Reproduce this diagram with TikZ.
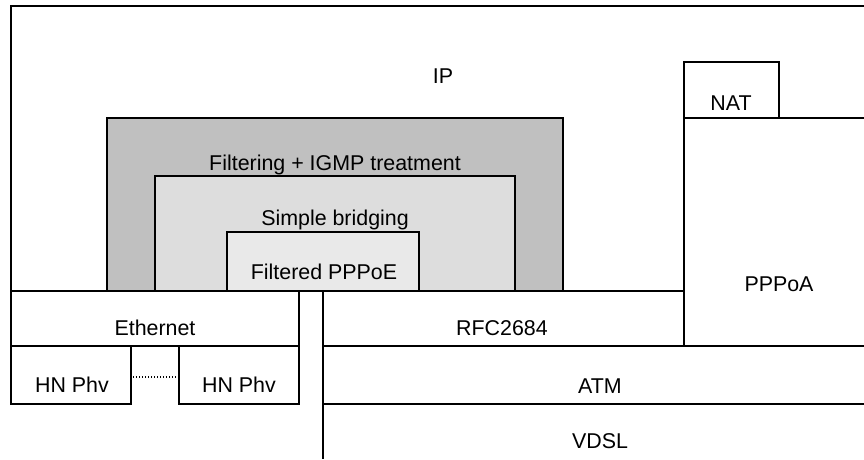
\documentclass[tikz,border=0pt]{standalone}
\usepackage{fontspec}
\setmainfont{Liberation Sans}
\begin{document}
\begin{tikzpicture}[x=1pt,y=-1pt,
  wire/.style={line width=1.6pt,line join=miter},
  lbl/.style={anchor=base,inner sep=0pt,font=\fontsize{21.4}{25}\selectfont},
  gdark/.style={wire,fill=gray75},
  gmid/.style={wire,fill=gray87},
  glight/.style={wire,fill=gray91}]
\definecolor{gray75}{HTML}{C0C0C0}
\definecolor{gray87}{HTML}{DDDDDD}
\definecolor{gray91}{HTML}{E9E9E9}
\useasboundingbox (0,0) rectangle (864,459);

% IP layer, open to the right
\draw[wire] (870,6) -- (11,6) -- (11,291);
\draw[wire] (11,291) -- (684,291);

% nested bridging boxes
\draw[gdark]  (107,118) rectangle (563,291);
\draw[gmid]   (155,176) rectangle (515,291);
\draw[glight] (227,232) rectangle (419,291);

% NAT and PPPoA
\draw[wire] (684,62) rectangle (779,118);
\draw[wire] (684,118) -- (870,118);
\draw[wire] (684,118) -- (684,346);

% Ethernet side
\draw[wire] (11,291) rectangle (299,346);
\draw[wire] (11,346) rectangle (131,404);
\draw[wire] (179,346) rectangle (299,404);
\coordinate (dotA) at (133,377);
\coordinate (dotB) at (177,377);
\draw[line width=1.3pt,dash pattern=on 1.3pt off 1.7pt] (dotA) -- (dotB);

% ATM side
\draw[wire] (323,291) rectangle (684,346);
\draw[wire] (323,346) -- (870,346);
\draw[wire] (323,404) -- (870,404);
\draw[wire] (323,291) -- (323,459);

% labels
\node[lbl] (ip)   at (443,83)  {IP};
\node[lbl] (nat)  at (731,110) {NAT};
\node[lbl] (filt) at (335,170) {Filtering + IGMP treatment};
\node[lbl] (sb)   at (335,225) {Simple bridging};
\node[lbl] (fp)   at (324,279) {Filtered PPPoE};
\node[lbl] (pppoa) at (779,291) {PPPoA};
\node[lbl] (eth)  at (155,335) {Ethernet};
\node[lbl] (rfc)  at (502,335) {RFC2684};
\node[lbl] (hn1)  at (72,392)  {HN Phv};
\node[lbl] (hn2)  at (239,392) {HN Phv};
\node[lbl] (atm)  at (600,393) {ATM};
\node[lbl] (vdsl) at (600,448) {VDSL};
\end{tikzpicture}
\end{document}
